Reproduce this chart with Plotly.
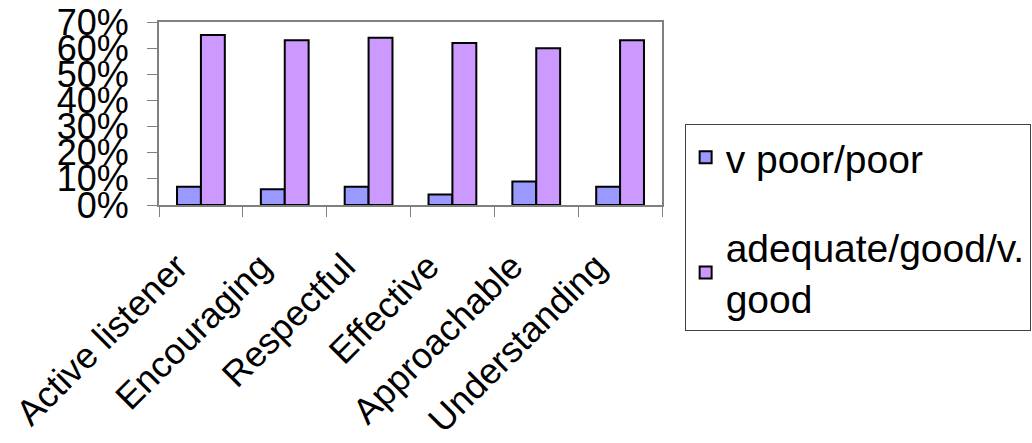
import plotly.graph_objects as go

# Ratings of staff qualities, share of respondents per rating band
categories = ["Active listener", "Encouraging", "Respectful", "Effective", "Approachable", "Understanding"]
poor_pct = [7, 6, 7, 4, 9, 7]
good_pct = [65, 63, 64, 62, 60, 63]
series_names = ["v poor/poor", "adequate/good/v.<br>good"]
y_ticks = [0, 10, 20, 30, 40, 50, 60, 70]
y_tick_text = [f"{v}%" for v in y_ticks]

FONT = "Liberation Sans, Arial, sans-serif"

fig = go.Figure()
fig.add_trace(go.Bar(
    x=categories, y=poor_pct, name=series_names[0], legendgroup="a",
    marker=dict(color="#9999FF", line=dict(color="black", width=2)),
))
fig.add_trace(go.Bar(
    x=categories, y=good_pct, name=series_names[1], legendgroup="b",
    marker=dict(color="#CC99FF", line=dict(color="black", width=2)),
))

fig.update_layout(
    width=1032, height=443,
    margin=dict(l=159, r=370, t=22, b=238, autoexpand=False),
    paper_bgcolor="white", plot_bgcolor="white",
    barmode="group", bargap=0.43, bargroupgap=0,
    font=dict(family=FONT, color="black"),
    showlegend=True,
    legend=dict(
        x=1.045, y=0.44, xanchor="left", yanchor="top",
        bordercolor="#404040", borderwidth=1, bgcolor="white",
        font=dict(size=39, family=FONT),
        traceorder="grouped", tracegroupgap=36,
        maxheight=400,
    ),
)
fig.update_xaxes(
    type="category", tickson="boundaries", ticks="outside", ticklen=10,
    tickcolor="#808080", tickwidth=1,
    showline=True, linecolor="#808080", linewidth=2, mirror=True,
    tickangle=-45, tickfont=dict(size=36, family=FONT),
    ticklabelstandoff=24, ticklabelshift=-24,
    showgrid=False, automargin=False,
)
fig.update_yaxes(
    range=[0, 70], tickvals=y_ticks, ticktext=y_tick_text,
    ticks="outside", ticklen=10, tickcolor="#808080",
    showline=True, linecolor="#808080", linewidth=2, mirror=True,
    tickfont=dict(size=36, family=FONT), ticklabelstandoff=11,
    showgrid=False, zeroline=False, automargin=False,
)

fig.write_html("out.html")
